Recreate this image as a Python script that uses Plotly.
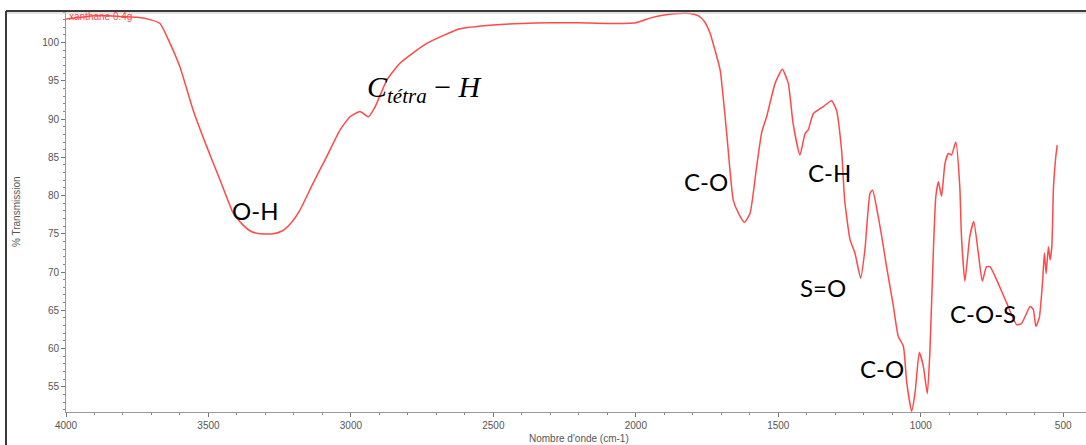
import plotly.graph_objects as go

wavenumber = [4000, 3950, 3900, 3850, 3800, 3750, 3705, 3670, 3635, 3600, 3554, 3506, 3459, 3413,
              3380, 3350, 3319, 3273, 3240, 3210, 3179, 3133, 3085, 3038, 3003, 2968, 2939, 2915, 2874, 2828,
              2734, 2617, 2500, 2400, 2300, 2200, 2100, 2000, 1950, 1900, 1850, 1810, 1780, 1760,
              1740, 1722, 1704, 1681, 1658, 1640, 1619, 1599, 1576, 1558, 1541, 1511, 1486, 1465,
              1448, 1424, 1406, 1395, 1377, 1343, 1313, 1296, 1278, 1267, 1248, 1231, 1211, 1196,
              1178, 1169, 1149, 1131, 1120, 1096, 1079, 1061, 1049, 1032, 1020, 1005, 991, 977,
              968, 956, 947, 938, 927, 915, 903, 892, 877, 863, 857, 845, 828, 814, 798, 784, 769,
              757, 734, 699, 663, 646, 616, 605, 596, 584, 572, 566, 560, 552, 546, 540, 534, 526, 521]
transmission = [103.1, 103.3, 103.5, 103.5, 103.4, 103.3, 103.0, 102.5, 99.9, 96.8, 91.2, 86.4, 82.0, 77.7,
                76.2, 75.3, 75.0, 75.0, 75.4, 76.4, 78.1, 81.6, 85.1, 88.6, 90.3, 91.0, 90.3, 91.6, 95.1, 97.3,
                99.9, 101.8, 102.3, 102.5, 102.6, 102.6, 102.5, 102.6, 103.2, 103.6, 103.8, 103.8, 103.5, 102.8,
                101.3, 99.0, 96.4, 88.1, 79.4, 77.7, 76.5, 77.7, 83.8, 88.3, 90.3, 94.7, 96.5, 94.7,
                89.4, 85.3, 88.1, 88.6, 90.7, 91.6, 92.4, 91.2, 86.0, 79.4, 74.2, 72.5, 69.2, 72.9,
                80.3, 80.7, 77.2, 73.3, 70.7, 65.5, 61.6, 60.3, 55.5, 51.8, 54.2, 59.5, 57.7, 54.1,
                59.5, 72.5, 79.9, 81.8, 79.9, 84.2, 85.5, 85.3, 87.0, 81.2, 74.6, 68.8, 74.6, 76.6, 72.5, 68.8, 70.7,
                70.7, 69.0, 66.0, 63.1, 63.3, 65.5, 65.1, 62.9, 64.0, 69.0, 72.5, 69.8, 73.3, 71.6, 73.3, 81.2, 85.1, 86.6]

x_ticks = [4000, 3500, 3000, 2500, 2000, 1500, 1000, 500]
y_ticks = [55, 60, 65, 70, 75, 80, 85, 90, 95, 100]

labels = ["O-H", "C-O", "C-H", "S=O", "C-O", "C-O-S"]
label_wn = [3337, 1754, 1322, 1343, 1136, 782]
label_t = [78.0, 81.9, 82.95, 68.0, 57.45, 64.6]

series_name = "xanthane 0.4g"

fig = go.Figure()
fig.add_trace(go.Scatter(x=wavenumber, y=transmission, mode="lines",
                         line=dict(color="#ff4a4a", width=1.5, shape="spline", smoothing=0.5),
                         name=series_name, showlegend=False))

for txt, xw, yt in zip(labels, label_wn, label_t):
    fig.add_annotation(x=xw, y=yt, text=txt, showarrow=False,
                       font=dict(family="Lato", size=24, color="black"),
                       xanchor="center", yanchor="middle")

fig.add_annotation(x=2740, y=93.9,
                   text="<i>C</i><sub><i>tétra</i></sub> − <i>H</i>",
                   showarrow=False, xanchor="center", yanchor="middle",
                   font=dict(family="Liberation Serif", size=30, color="black"))

fig.add_annotation(xref="paper", yref="paper", x=0.001, y=(412 - 17) / 400,
                   text=series_name, showarrow=False, xanchor="left", yanchor="middle",
                   font=dict(family="Liberation Sans", size=10, color="#ff4a4a"))

fig.add_annotation(xref="paper", yref="paper", x=(16 - 66) / 1020, y=0.5,
                   text="% Transmission", textangle=-90, showarrow=False,
                   xanchor="center", yanchor="middle",
                   font=dict(family="Liberation Sans", size=10, color="#555555"))
fig.add_annotation(xref="paper", yref="paper", x=(579 - 66) / 1020, y=(412 - 439) / 400,
                   text="Nombre d'onde (cm-1)", showarrow=False,
                   xanchor="center", yanchor="middle",
                   font=dict(family="Liberation Sans", size=10, color="#555555"))

# outer frame lines (top and left)
fig.add_shape(type="line", xref="paper", yref="paper",
              x0=(6 - 66) / 1020, x1=1.0, y0=(412 - 11) / 400, y1=(412 - 11) / 400,
              line=dict(color="#3a3a3a", width=2))
fig.add_shape(type="line", xref="paper", yref="paper",
              x0=(6 - 66) / 1020, x1=1.0, y0=(412 - 13) / 400, y1=(412 - 13) / 400,
              line=dict(color="#c8c8c8", width=1))
fig.add_shape(type="line", xref="paper", yref="paper",
              x0=(6 - 66) / 1020, x1=(6 - 66) / 1020, y0=(412 - 450) / 400, y1=(412 - 11) / 400,
              line=dict(color="#3a3a3a", width=2))

fig.update_xaxes(range=[4000, 420], tickvals=x_ticks, ticktext=[str(v) for v in x_ticks],
                 showgrid=False, zeroline=False, showline=True, linecolor="#999999", linewidth=1,
                 ticks="outside", ticklen=4, tickcolor="#777777",
                 minor=dict(dtick=100, ticks="outside", ticklen=2, tickcolor="#888888", showgrid=False),
                 tickfont=dict(family="Liberation Sans", size=10, color="#555555"))
fig.update_yaxes(range=[51.7, 104.0], tickvals=y_ticks,
                 showgrid=False, zeroline=False, showline=True, linecolor="#999999", linewidth=1,
                 ticks="outside", ticklen=4, tickcolor="#777777",
                 minor=dict(dtick=1, ticks="outside", ticklen=2, tickcolor="#888888", showgrid=False),
                 tickfont=dict(family="Liberation Sans", size=10, color="#555555"))

fig.update_layout(width=1086, height=445, margin=dict(l=66, r=0, t=12, b=33),
                  paper_bgcolor="white", plot_bgcolor="white")

fig.write_html("out.html")
